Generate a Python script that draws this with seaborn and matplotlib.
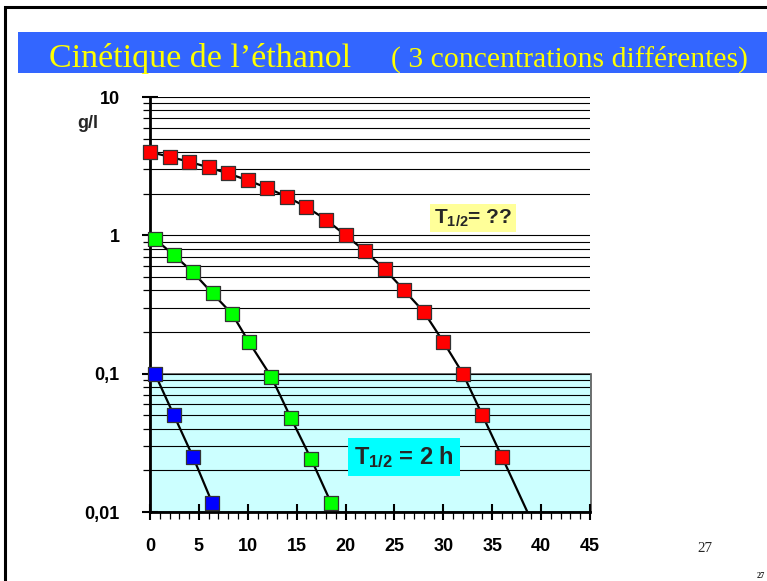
import matplotlib
matplotlib.use("Agg")
import numpy as np
import pandas as pd
import matplotlib.pyplot as plt
import seaborn as sns
from matplotlib.patches import Rectangle
from matplotlib.ticker import MultipleLocator, LogLocator, NullFormatter

# === Données (temps en h, concentration en g/l) ===
t_rouge = [0, 2, 4, 6, 8, 10, 12, 14, 16, 18, 20, 22, 24, 26, 28, 30, 32, 34, 36]
c_rouge = [4.0, 3.7, 3.4, 3.1, 2.8, 2.5, 2.2, 1.9, 1.6, 1.3, 1.0,
           0.77, 0.57, 0.40, 0.28, 0.17, 0.10, 0.05, 0.025]
# prolongement de la droite rouge jusqu'à 0,01 (sans marqueur)
t_rouge_fin = [36, 38.6]
c_rouge_fin = [0.025, 0.01]

t_vert = [0.5, 2.45, 4.4, 6.4, 8.4, 10.1, 12.4, 14.4, 16.5, 18.5]
c_vert = [0.94, 0.72, 0.54, 0.38, 0.27, 0.17, 0.095, 0.048, 0.024, 0.0117]

t_bleu = [0.5, 2.45, 4.4, 6.35]
c_bleu = [0.1, 0.05, 0.025, 0.0117]

x_ticks = [0, 5, 10, 15, 20, 25, 30, 35, 40, 45]
y_ticks = [0.01, 0.1, 1, 10]
y_labels = ["0,01", "0,1", "1", "10"]

titre_1 = "Cinétique de l’éthanol"
titre_2 = "( 3 concentrations différentes)"

# === Style ===
sns.set_style("ticks")
plt.rcParams["font.family"] = ["Liberation Sans", "DejaVu Sans"]
plt.rcParams["mathtext.fontset"] = "custom"
plt.rcParams["mathtext.rm"] = "Liberation Sans:bold"
plt.rcParams["mathtext.it"] = "Liberation Sans:bold"
plt.rcParams["mathtext.bf"] = "Liberation Sans:bold"

W, H = 767, 581
fig = plt.figure(figsize=(W / 100, H / 100), dpi=100)
fig.patch.set_facecolor("white")


def fx(px):
    return px / W


def fy(py):
    return 1 - py / H


# cadre de la diapo + bandeau de titre
fig.patches.append(Rectangle((fx(5), fy(600)), (790 - 5) / W, (600 - 7) / H,
                             transform=fig.transFigure, fill=False,
                             ec="black", lw=2.2, clip_on=False))
fig.patches.append(Rectangle((fx(18), fy(73)), (780 - 18) / W, 41 / H,
                             transform=fig.transFigure, fc="#3366ff",
                             ec="none", clip_on=False))
fig.text(fx(49), fy(67), titre_1, family="Liberation Serif", fontsize=24.5,
         color="#ffff00", va="baseline")
fig.text(fx(391), fy(67), titre_2, family="Liberation Serif", fontsize=21.4,
         color="#ffff00", va="baseline")

# === Graphique ===
ax = fig.add_axes([fx(150), fy(512), 440 / W, 415 / H])
ax.set_yscale("log")
ax.set_facecolor("white")

ax.add_patch(Rectangle((0, 0.01), 45.15, 0.09, fc="#ccffff", ec="#555555",
                       lw=1.2, zorder=0.3, clip_on=False))

series = [
    (t_rouge + t_rouge_fin[1:], c_rouge + c_rouge_fin[1:], t_rouge, c_rouge, "#ff0000"),
    (t_vert, c_vert, t_vert, c_vert, "#00ff00"),
    (t_bleu, c_bleu, t_bleu, c_bleu, "#0000ff"),
]
for tl, cl, tm, cm, coul in series:
    sns.lineplot(x=tl, y=cl, ax=ax, color="black", lw=1.6, sort=False,
                 estimator=None, zorder=3)
    sns.scatterplot(x=tm, y=cm, ax=ax, marker="s", s=92, color=coul,
                    edgecolor="#333333", linewidth=0.9, zorder=4,
                    clip_on=False)

ax.set_xlim(0, 45)
ax.set_ylim(0.01, 10)
ax.set_axisbelow(True)
ax.yaxis.grid(True, which="both", color="black", lw=0.8)
ax.xaxis.grid(False)

ax.set_xticks(x_ticks)
ax.set_xticklabels([str(v) for v in x_ticks], fontweight="bold")
ax.set_yticks(y_ticks)
ax.set_yticklabels(y_labels, fontweight="bold")
ax.xaxis.set_minor_locator(MultipleLocator(1))
ax.yaxis.set_minor_locator(LogLocator(base=10, subs=np.arange(2, 10)))
ax.yaxis.set_minor_formatter(NullFormatter())

ax.tick_params(axis="both", which="major", direction="inout", length=12,
               width=1.5, colors="black", labelsize=13)
ax.tick_params(axis="both", which="minor", direction="out", length=5,
               width=0.9, colors="black")
ax.tick_params(axis="y", which="major", pad=15.8)
ax.tick_params(axis="x", which="major", pad=13)

sns.despine(ax=ax)
for s in ["left", "bottom"]:
    ax.spines[s].set_linewidth(2)
    ax.spines[s].set_color("black")
ax.set_xlabel("")
ax.set_ylabel("")

fig.text(fx(77), fy(123), "g/l", fontsize=13, fontweight="bold", va="center")

fig.text(fx(434), fy(218), r"T$_{1/2}$= ??", fontsize=15, fontweight="bold",
         va="center", ha="left",
         bbox=dict(fc="#ffff99", ec="none", pad=2.5))
fig.text(fx(354), fy(457), r"T$_{1/2}$ = 2 h", fontsize=17, fontweight="bold",
         va="center", ha="left",
         bbox=dict(fc="#00ffff", ec="none", pad=4))

fig.text(fx(697), fy(548), "27", family="Liberation Serif", fontsize=10.8,
         va="center")
fig.text(fx(757), fy(576), "27", family="Liberation Serif", fontsize=6,
         fontweight="bold", va="center")

fig.savefig("out.png", dpi=100)
